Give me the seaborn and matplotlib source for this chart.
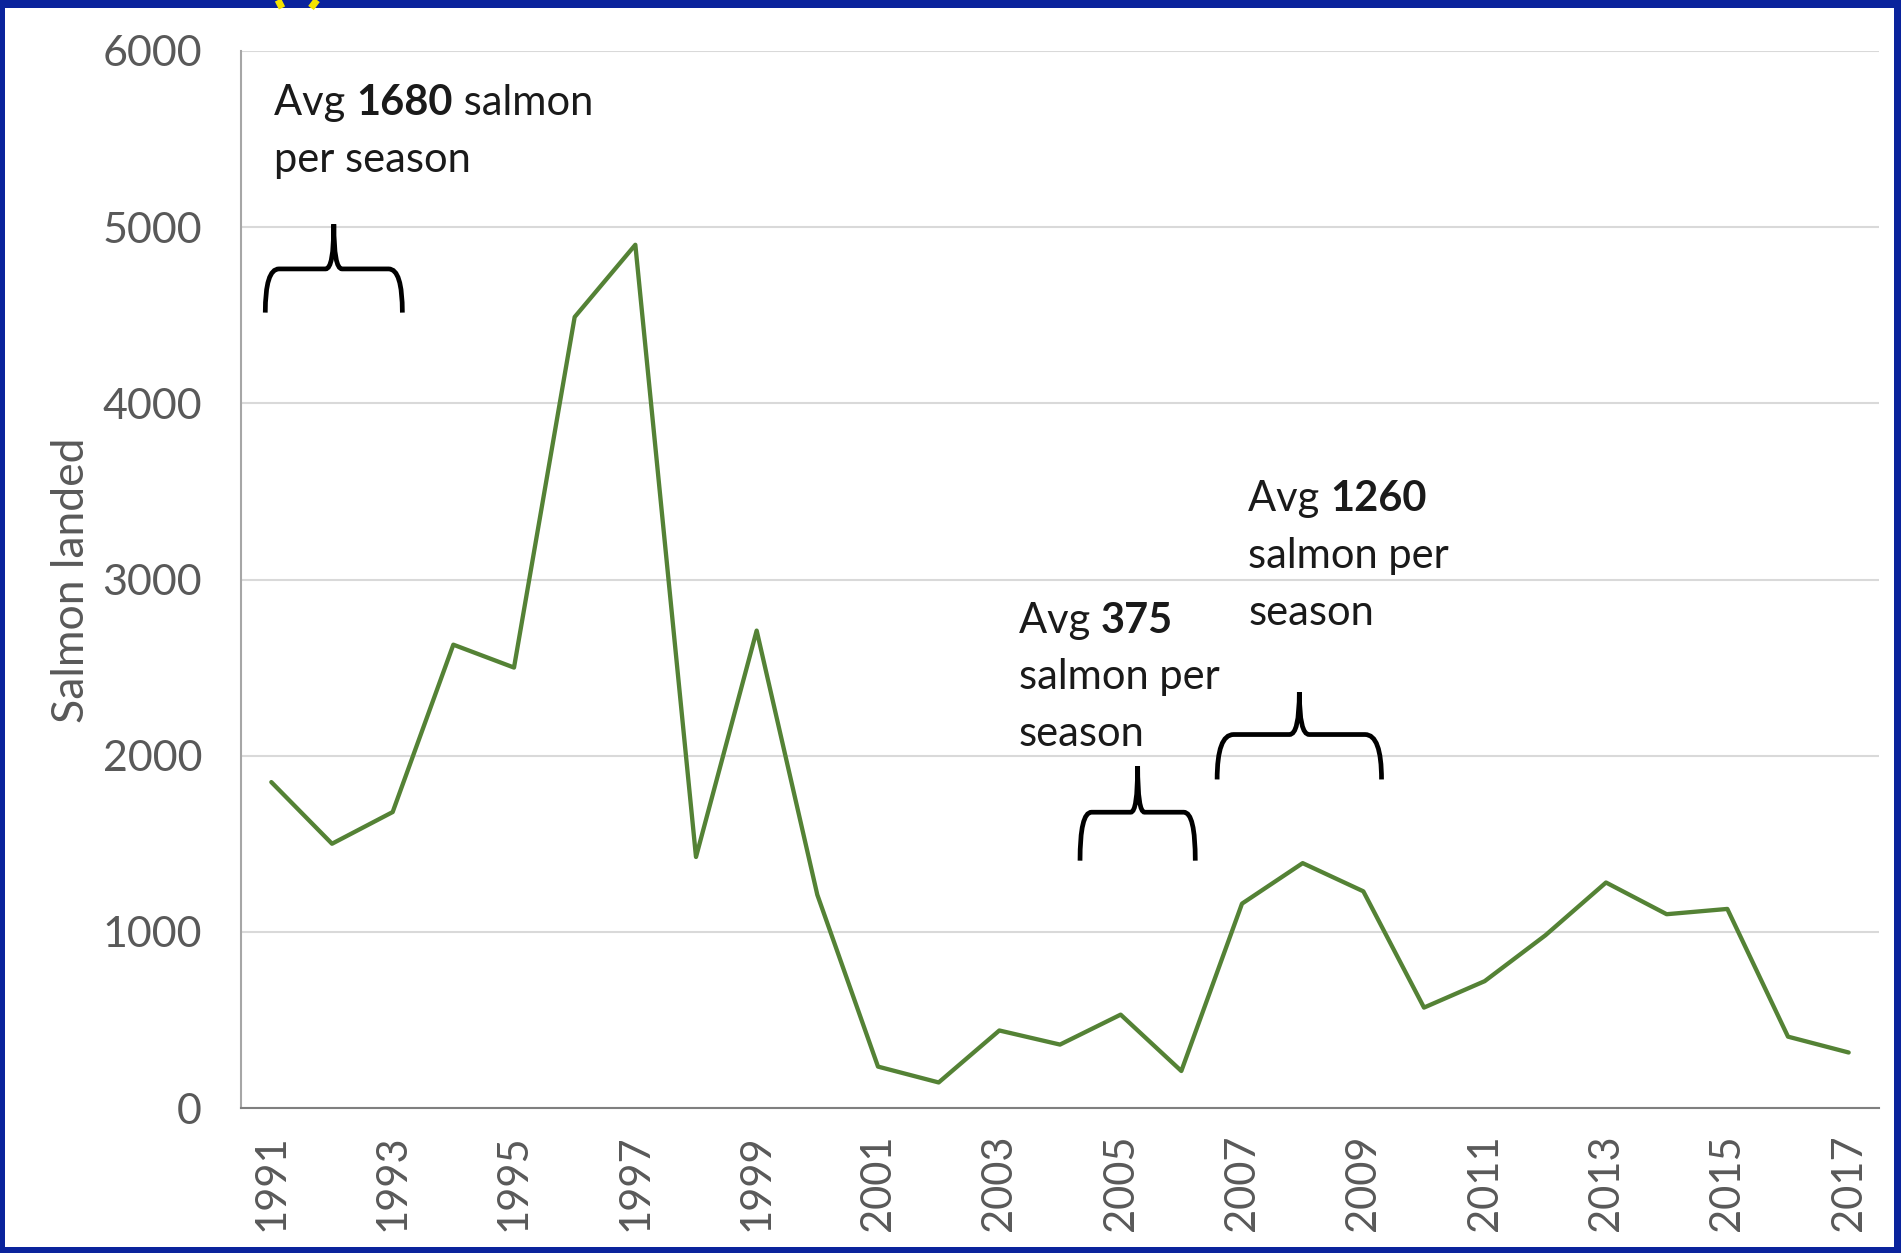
import numpy as np
import pandas as pd
import seaborn as sns
import matplotlib.pyplot as plt
from matplotlib.path import Path
from matplotlib.patches import PathPatch, Rectangle
from matplotlib.lines import Line2D

# Salmon landed per season
years = list(range(1991, 2018))
salmon = [1850, 1500, 1680, 2630, 2500, 4490, 4900, 1425, 2710, 1210,
          235, 145, 440, 360, 530, 210, 1160, 1390, 1230, 570,
          720, 980, 1280, 1100, 1130, 405, 315]
tick_labels = [str(y) if y % 2 == 1 else '' for y in years]
y_ticks = [0, 1000, 2000, 3000, 4000, 5000, 6000]

# annotation boxes: (first part, bold number, rest of first line, other lines)
notes = [
    ("Avg ", "1680", " salmon", ["per season"]),
    ("Avg ", "375", "", ["salmon per", "season"]),
    ("Avg ", "1260", "", ["salmon per", "season"]),
]
note_x = [1991.05, 2003.32, 2007.1]
note_y = [5705, 2767, 3455]

# braces: left, right, bottom, bar, tip
braces = [
    (1990.9, 1993.16, 4515, 4763, 5017),
    (2004.33, 2006.23, 1404, 1679, 1941),
    (2006.59, 2009.30, 1865, 2120, 2361),
]

dat = pd.DataFrame({'year': years, 'salmon': salmon})

sns.set_style('white')
plt.rcParams['font.family'] = ['Lato', 'DejaVu Sans']

W, H = 1901, 1253
fig = plt.figure(figsize=(W / 100, H / 100), dpi=100)
fig.patch.set_facecolor('#0a239c')
fig.patches.append(Rectangle((5 / W, 6 / H), 1889 / W, 1239 / H,
                             transform=fig.transFigure, facecolor='white',
                             edgecolor='none', zorder=-5))
# yellow fragment of the cut-off title in the top band
fig.lines.append(Line2D([278 / W, 282 / W], [1.0, 1 - 8 / H],
                        transform=fig.transFigure, color='#f5e400', lw=5,
                        solid_capstyle='butt', zorder=-1))
fig.lines.append(Line2D([317 / W, 311 / W], [1.0, 1 - 8 / H],
                        transform=fig.transFigure, color='#f5e400', lw=5,
                        solid_capstyle='butt', zorder=-1))

ax = fig.add_axes([241 / W, 145 / H, 1638 / W, 1057 / H])
ax.set_facecolor('none')

sns.lineplot(data=dat, x='year', y='salmon', color='#548235', linewidth=3.1, ax=ax)

ax.set_xlim(1990.5, 2017.5)
ax.set_ylim(0, 6000)
ax.set_xticks(years)
ax.set_xticklabels(tick_labels, rotation=90)
ax.set_yticks(y_ticks)
ax.set_yticklabels([str(v) for v in y_ticks])
ax.set_xlabel('')
ax.set_ylabel('')

ax.grid(axis='y', color='#d9d9d9', linewidth=1.5)
ax.set_axisbelow(True)
for s in ['top', 'right']:
    ax.spines[s].set_visible(False)
ax.spines['left'].set_color('#a6a6a6')
ax.spines['left'].set_linewidth(1.5)
ax.spines['bottom'].set_color('#7f7f7f')
ax.spines['bottom'].set_linewidth(1.5)

ax.tick_params(axis='x', direction='in', length=8, width=1.2, color='#595959',
               labelsize=30, labelcolor='#595959', pad=19)
ax.tick_params(axis='y', length=0, labelsize=31, labelcolor='#595959', pad=28)

fig.text(72 / W, 0.5 + (H / 2 - 580) / H, 'Salmon landed', rotation=90,
         ha='center', va='center', fontsize=32, color='#595959')


def draw_brace(ax, x0, x1, y0, y1, ytip):
    xc = (x0 + x1) / 2
    dx = (x1 - x0) * 0.1
    verts = [(x0, y0), (x0, y1), (x0 + dx, y1),
             (xc - dx * 0.6, y1), (xc, y1), (xc, ytip),
             (xc, y1), (xc + dx * 0.6, y1),
             (x1 - dx, y1), (x1, y1), (x1, y0)]
    codes = [Path.MOVETO, Path.CURVE3, Path.CURVE3,
             Path.LINETO, Path.CURVE3, Path.CURVE3,
             Path.CURVE3, Path.CURVE3,
             Path.LINETO, Path.CURVE3, Path.CURVE3]
    ax.add_patch(PathPatch(Path(verts, codes), facecolor='none',
                           edgecolor='black', linewidth=3.4, capstyle='butt'))


for b in braces:
    draw_brace(ax, *b)

line_step = 323
txt_kw = dict(fontsize=30, color='#1a1a1a')
for (a, num, rest, more), x, y in zip(notes, note_x, note_y):
    t1 = ax.text(x, y, a, ha='left', va='center', **txt_kw)
    t2 = ax.annotate(num, xy=(1, 0), xycoords=t1, ha='left', va='bottom',
                     fontweight='bold', **txt_kw)
    if rest:
        ax.annotate(rest, xy=(1, 0), xycoords=t2, ha='left', va='bottom', **txt_kw)
    for i, line in enumerate(more):
        ax.text(x, y - line_step * (i + 1), line, ha='left', va='center', **txt_kw)

plt.savefig('out.png', dpi=100, facecolor=fig.get_facecolor())
